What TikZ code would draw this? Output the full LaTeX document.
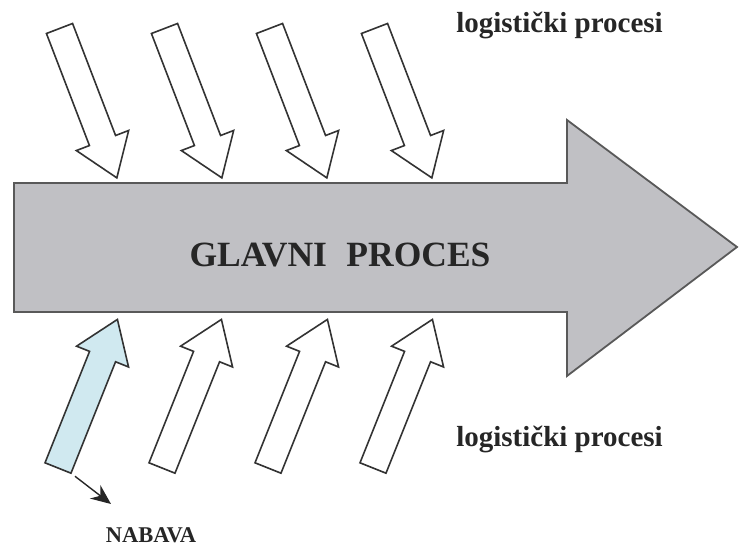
\documentclass[tikz,border=0pt]{standalone}
\usepackage{fontspec}
\setmainfont{Liberation Serif}
\usetikzlibrary{arrows.meta}
\definecolor{procesgray}{RGB}{192,192,196}
\definecolor{nabavablue}{RGB}{208,233,240}
\tikzset{
  pics/blokstrelica/.style={code={
    \draw[pic actions] (0,-14) -- (120,-14) -- (120,-28) -- (160,0) -- (120,28) -- (120,14) -- (0,14) -- cycle;
    \coordinate (-kut) at (0,-14);
  }},
  malastrelica/.style={draw=black!80, line width=1.6pt, line join=miter},
  natpis/.style={font=\fontsize{29}{32}\selectfont\bfseries, text=black!85, inner sep=0pt}
}
\begin{document}
\begin{tikzpicture}[x=1pt, y=1pt]
  \useasboundingbox (0,0) rectangle (739,549);
  % Glavna strelica
  \draw[fill=procesgray, draw=black!65, line width=1.8pt, line join=miter]
    (14,366) -- (567,366) -- (567,429) -- (737,302) -- (567,173) -- (567,237) -- (14,237) -- cycle;
  \node[anchor=base, inner sep=0pt, text=black!85, font=\fontsize{35.5}{38}\selectfont\bfseries] (glavni) at (340,282) {GLAVNI\hspace{0.55em}PROCES};
  % Gornji procesi
  \pic[rotate=-69, fill=white, malastrelica] (g1) at (59.5,520.5) {blokstrelica};
  \pic[rotate=-69, fill=white, malastrelica] (g2) at (164.5,520.5) {blokstrelica};
  \pic[rotate=-69, fill=white, malastrelica] (g3) at (269.5,520.5) {blokstrelica};
  \pic[rotate=-69, fill=white, malastrelica] (g4) at (374.5,520.5) {blokstrelica};
  % Donji procesi
  \pic[rotate=68.2, fill=nabavablue, malastrelica] (nab) at (58,81) {blokstrelica};
  \pic[rotate=68.2, fill=white, malastrelica] (d2) at (162,81) {blokstrelica};
  \pic[rotate=68.2, fill=white, malastrelica] (d3) at (268,81) {blokstrelica};
  \pic[rotate=68.2, fill=white, malastrelica] (d4) at (373,81) {blokstrelica};
  % Natpisi
  \node[natpis, anchor=base] (gornji) at (559.5,516) {logistički procesi};
  \node[natpis, anchor=base] (donji) at (559.5,102) {logistički procesi};
  \node[anchor=base, inner sep=0pt, text=black!85, font=\fontsize{22.5}{24}\selectfont\bfseries] (nabava) at (151,6) {NABAVA};
  % Nabava
  \coordinate (kraj) at (111,45);
  \draw[line width=1.4pt, draw=black!85, shorten <=5pt, -{Stealth[length=20pt, width=17pt]}] (nab-kut) -- (kraj);
\end{tikzpicture}
\end{document}
